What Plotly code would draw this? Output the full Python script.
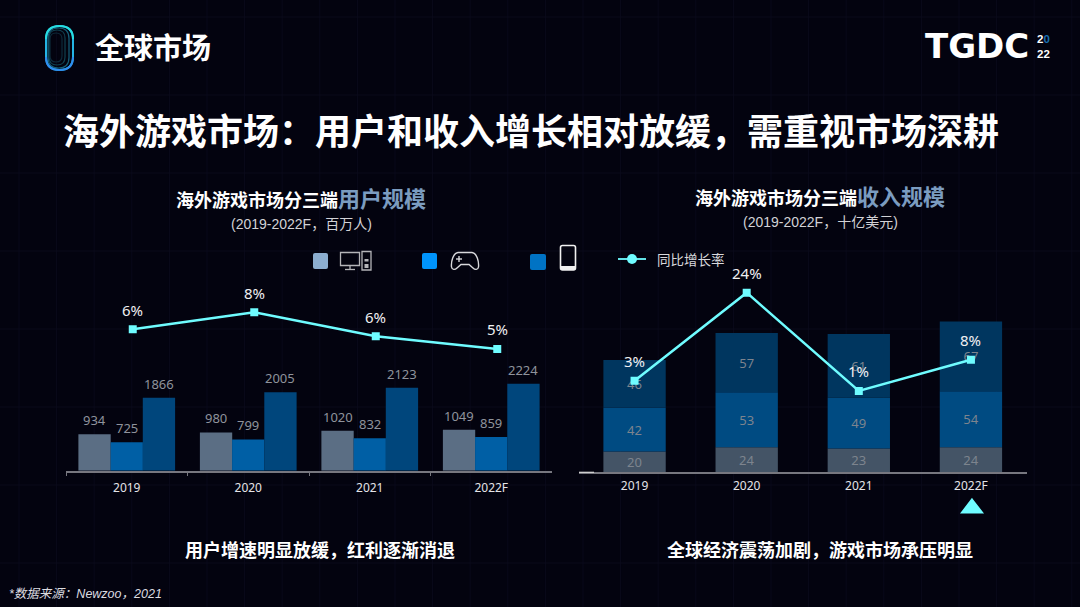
import plotly.graph_objects as go

years = ['2019', '2020', '2021', '2022F']

# 用户规模 (百万人)
users_pc = [934, 980, 1020, 1049]
users_console = [725, 799, 832, 859]
users_mobile = [1866, 2005, 2123, 2224]
users_growth = [6.4, 7.6, 5.9, 5.0]
users_growth_labels = ['6%', '8%', '6%', '5%']

# 收入规模 (十亿美元)
rev_pc = [20, 24, 23, 24]
rev_console = [42, 53, 49, 54]
rev_mobile = [46, 57, 61, 67]
rev_growth = [3.4, 24, 1, 8.3]
rev_growth_labels = ['3%', '24%', '1%', '8%']

W, H = 1080, 607
BG = '#03030f'
CYAN = '#6ffcff'
CJK = 'Noto Sans CJK SC'
LAT = 'Liberation Sans, Noto Sans CJK SC'
NUM = 'Noto Sans, Noto Sans CJK SC'


def px(x):
    return x / W


def py(y):
    return 1 - y / H


fig = go.Figure()

# left chart: three bars per year
left_bars = [(users_pc, '#5b6e84', -0.398), (users_console, '#005fa5', -0.133), (users_mobile, '#00467c', 0.132)]
for vals, col, off in left_bars:
    fig.add_trace(go.Bar(x=years, y=vals, xaxis='x', yaxis='y', width=0.266, offset=off,
                         marker=dict(color=col, line_width=0)))
fig.add_trace(go.Scatter(x=years, y=users_growth, xaxis='x3', yaxis='y2', mode='lines+markers',
                         line=dict(color=CYAN, width=2.5), marker=dict(symbol='square', size=8, color=CYAN)))

# right chart: stacked bars, base taken from the series below
rev_base2 = list(rev_pc)
rev_base3 = [a + b for a, b in zip(rev_pc, rev_console)]
right_bars = [(rev_pc, [0, 0, 0, 0], '#445466'), (rev_console, rev_base2, '#004b82'), (rev_mobile, rev_base3, '#00365f')]
for vals, base, col in right_bars:
    fig.add_trace(go.Bar(x=years, y=vals, base=base, xaxis='x2', yaxis='y3', width=0.556, offset=-0.278,
                         marker=dict(color=col, line_width=0), text=vals, textposition='inside',
                         insidetextanchor='middle', constraintext='none', textangle=0,
                         textfont=dict(size=13, color='#7d848e', family=NUM)))
fig.add_trace(go.Scatter(x=years, y=rev_growth, xaxis='x2', yaxis='y4', mode='lines+markers',
                         line=dict(color=CYAN, width=2.5), marker=dict(symbol='square', size=8, color=CYAN)))

tick_font = dict(size=12, color='#e4e4e8', family='Noto Sans')
axis_line = '#77777f'
fig.update_layout(
    width=W, height=H, margin=dict(l=0, r=0, t=0, b=0), autosize=False,
    paper_bgcolor=BG, plot_bgcolor='rgba(0,0,0,0)', showlegend=False, barmode='overlay',
    xaxis=dict(domain=[px(66), px(552)], anchor='y', type='category', categoryorder='array', categoryarray=years,
               tickson='boundaries', ticks='outside', ticklen=4, tickcolor=axis_line, showgrid=False,
               showline=True, linecolor=axis_line, linewidth=1.5, tickfont=tick_font, zeroline=False,
               range=[-0.5, 3.5], ticklabelstandoff=5),
    yaxis=dict(domain=[py(470.7), py(270)], anchor='x', range=[0, 5133], visible=False),
    xaxis3=dict(domain=[px(72), px(558)], anchor='y2', type='category', range=[-0.5, 3.5], visible=False),
    yaxis2=dict(domain=[py(470.7), py(270)], anchor='x3', range=[-3.63, 10.6], visible=False),
    xaxis2=dict(domain=[px(578.5), px(1027)], anchor='y3', type='category', categoryorder='array', categoryarray=years,
                ticks='', showgrid=False, showline=True, linecolor=axis_line, linewidth=1.5, tickfont=tick_font,
                zeroline=False, range=[-0.5, 3.5], ticklabelstandoff=2),
    yaxis3=dict(domain=[py(472.3), py(270)], anchor='x2', range=[0, 194.5], visible=False),
    yaxis4=dict(domain=[py(472.3), py(270)], anchor='x2', overlaying='y3', range=[-18.04, 29.3], visible=False),
    # full canvas pixel axes for the slide furniture
    xaxis9=dict(domain=[0, 1], anchor='y9', range=[0, W], visible=False, fixedrange=True),
    yaxis9=dict(domain=[0, 1], anchor='x9', range=[H, 0], visible=False, fixedrange=True),
)

shapes = []


def add_shape(kind='path', **kw):
    shapes.append(dict(type=kind, xref='x9', yref='y9', **kw))


def rounded(x0, y0, x1, y1, r):
    return (f'M{x0 + r},{y0} L{x1 - r},{y0} Q{x1},{y0} {x1},{y0 + r} L{x1},{y1 - r} Q{x1},{y1} {x1 - r},{y1} '
            f'L{x0 + r},{y1} Q{x0},{y1} {x0},{y1 - r} L{x0},{y0 + r} Q{x0},{y0} {x0 + r},{y0} Z')


# faint background grid, on paper so it stays under the bars
for i in range(30):
    gx = 19 + i * 37.6
    shapes.append(dict(type='line', xref='paper', yref='paper', x0=px(gx), x1=px(gx), y0=0, y1=1,
                       line=dict(color='#09091a', width=1), layer='below'))
for i in range(8):
    gy = 17 + i * 78
    shapes.append(dict(type='line', xref='paper', yref='paper', x0=0, x1=1, y0=py(gy), y1=py(gy),
                       line=dict(color='#0a0a1a', width=1), layer='below'))

# section logo
for (x0, y0, x1, y1, col) in [(50, 33, 62, 62, '#0d2a3a'), (49, 30, 65, 65, '#10404f'), (48, 28, 69, 68, '#15607a')]:
    add_shape(path=rounded(x0, y0, x1, y1, (x1 - x0) / 2), line=dict(color=col, width=1.2), fillcolor='rgba(0,0,0,0)')
add_shape(path=rounded(46, 26, 73, 70, 13.5), line=dict(color='#24b4e4', width=2), fillcolor='rgba(0,0,0,0)')
add_shape(path='M46,39 Q46,26 59.5,26 Q73,26 73,39', line=dict(color='#27dde0', width=2))
add_shape(path='M46,57 Q46,70 59.5,70 Q73,70 73,57', line=dict(color='#2f8df0', width=2))

# legend swatches
for x0, y0, x1, y1, col in [(313, 253, 328, 269, '#8caed0'), (422, 253, 437, 269, '#0094fb'), (530, 254, 546, 270, '#0073c4')]:
    add_shape(path=rounded(x0, y0, x1, y1, 2), fillcolor=col, line_width=0)

# pc icon
icon = dict(color='#b4b4b8', width=1.3)
add_shape('rect', x0=340.5, x1=359.5, y0=252.5, y1=265.5, line=icon)
add_shape('line', x0=350, x1=350, y0=265.5, y1=269, line=icon)
add_shape('line', x0=345, x1=355, y0=269.5, y1=269.5, line=icon)
add_shape('rect', x0=362, x1=371, y0=251.5, y1=270, line=icon)
add_shape('rect', x0=364.5, x1=368.5, y0=259, y1=261.5, fillcolor='#b4b4b8', line_width=0)
add_shape('rect', x0=364.5, x1=368.5, y0=264, y1=268, fillcolor='#b4b4b8', line_width=0)

# gamepad icon
pad = dict(color='#d8d8dc', width=1.4)
add_shape(path='M458,252.5 L472,252.5 C477,253 479,262 478.5,267 C478,270 475,270 473,268 L469,264.5 L461,264.5 '
               'L457,268 C455,270 452,270 451.5,267 C451,262 453,253 458,252.5 Z',
          line=pad, fillcolor='rgba(0,0,0,0)')
add_shape('line', x0=456, x1=462, y0=259, y1=259, line=pad)
add_shape('line', x0=459, x1=459, y0=256, y1=262, line=pad)

# phone icon
add_shape(path=rounded(560.5, 245.5, 575.5, 270, 2), line=dict(color='#f0f0f0', width=1.6), fillcolor='rgba(0,0,0,0)')
add_shape('rect', x0=561, x1=575, y0=266, y1=270, fillcolor='#f0f0f0', line_width=0)

# growth legend key
add_shape('line', x0=618, x1=646, y0=259, y1=259, line=dict(color=CYAN, width=1.8))
add_shape('circle', x0=627, x1=637, y0=254, y1=264, fillcolor=CYAN, line_width=0)

# bright tail on the right axis and the forecast marker
add_shape('line', x0=579, x1=594, y0=472.3, y1=472.3, line=dict(color='#d8d8d8', width=1.2))
add_shape(path='M972,499.5 L982,512.5 L962,512.5 Z', fillcolor=CYAN, line=dict(color=CYAN, width=2))

annotations = []


def text(x, y, s, size, color='#ffffff', family=CJK, anchor='center', **kw):
    annotations.append(dict(x=x, y=y, xref='x9', yref='y9', text=s, showarrow=False, xanchor=anchor, yanchor='middle',
                            font=dict(size=size, color=color, family=family), **kw))


text(93, 46, '<b>全球市场</b>', 29, anchor='left')
text(531, 128.5, '<b>海外游戏市场：用户和收入增长相对放缓，需重视市场深耕</b>', 36)
text(977, 46, '<b>TGDC</b>', 34, family='DejaVu Sans')
text(1043.5, 46.5, '<b>2<span style="color:#1a6fb0">0</span><br>22</b>', 11.5, family='Liberation Sans')

accent = 'color:#7b9cc0;font-size:22px'
text(300.5, 196.5, f'<b>海外游戏市场分三端<span style="{accent}">用户规模</span></b>', 18)
text(301, 223.5, '(2019-2022F，百万人)', 14, color='#d2d2d6', family=LAT)
text(820, 195, f'<b>海外游戏市场分三端<span style="{accent}">收入规模</span></b>', 18)
text(820, 221.5, '(2019-2022F，十亿美元)', 14, color='#d2d2d6', family=LAT)
text(691, 259, '同比增长率', 13.5, color='#d8d8dc')
text(320, 549, '<b>用户增速明显放缓，红利逐渐消退</b>', 18)
text(820, 549, '<b>全球经济震荡加剧，游戏市场承压明显</b>', 18)
text(7, 594, '<i>*数据来源：Newzoo，2021</i>', 12.5, color='#dcdce0', family=LAT, anchor='left')

# value labels over the left bars; category axes want the year index here
for vals, col, off in left_bars:
    for i, v in enumerate(vals):
        annotations.append(dict(x=i + off + 0.133, y=v, xref='x', yref='y', text=str(v), showarrow=False, yshift=14,
                                font=dict(size=13, color='#8f939c', family=NUM)))

# growth labels sit above the line points
for i, (v, lab) in enumerate(zip(users_growth, users_growth_labels)):
    annotations.append(dict(x=i, y=v, xref='x3', yref='y2', text=lab, showarrow=False, yshift=19.5,
                            font=dict(size=15, color='#f0f0f2', family=NUM)))
for i, (v, lab) in enumerate(zip(rev_growth, rev_growth_labels)):
    annotations.append(dict(x=i, y=v, xref='x2', yref='y4', text=lab, showarrow=False, yshift=19.5,
                            font=dict(size=15, color='#f0f0f2', family=NUM)))

fig.update_layout(shapes=shapes, annotations=annotations)
fig.write_html('out.html', config=dict(displayModeBar=False), post_script="document.body.style.margin='0';")
